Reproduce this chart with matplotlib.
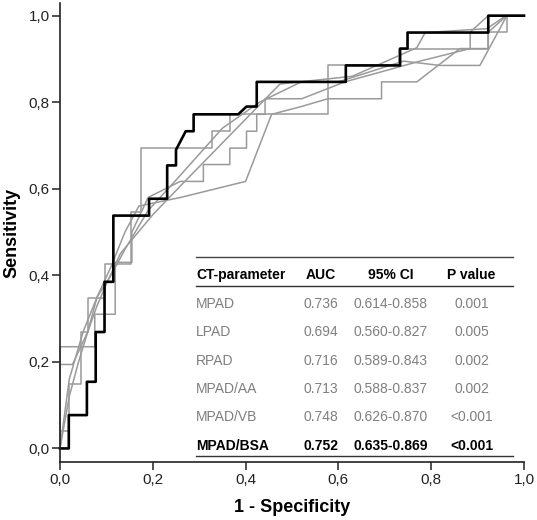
import numpy as np
import matplotlib.pyplot as plt

plt.rcParams['font.family'] = ['Liberation Sans', 'DejaVu Sans']

# ROC curves (1 - specificity, sensitivity)
mpad_x = [0, 0, 0.02, 0.02, 0.045, 0.045, 0.06, 0.06, 0.097, 0.097, 0.153, 0.153, 0.174, 0.174,
          0.327, 0.327, 0.366, 0.366, 0.577, 0.577, 0.614, 0.731, 0.731, 0.923, 0.923, 0.963, 0.963, 1.0]
mpad_y = [0, 0.04, 0.04, 0.15, 0.15, 0.27, 0.27, 0.347, 0.347, 0.427, 0.427, 0.546, 0.546, 0.694,
          0.694, 0.733, 0.733, 0.772, 0.772, 0.885, 0.885, 0.885, 0.924, 0.924, 0.962, 0.962, 1.0, 1.0]

lpad_x = [0, 0, 0.027, 0.06, 0.08, 0.11, 0.14, 0.17, 0.26, 0.40, 0.456, 0.52, 0.577, 0.693, 0.693,
          0.769, 0.862, 0.923, 0.923, 0.963, 1.0]
lpad_y = [0, 0.194, 0.194, 0.27, 0.35, 0.42, 0.50, 0.56, 0.58, 0.617, 0.772, 0.79, 0.808, 0.808, 0.847,
          0.847, 0.924, 0.924, 0.962, 1.0, 1.0]

rpad_x = [0, 0, 0.075, 0.075, 0.119, 0.119, 0.155, 0.155, 0.19, 0.259, 0.309, 0.309, 0.366, 0.366,
          0.402, 0.402, 0.424, 0.424, 0.442, 0.442, 0.521, 0.614, 0.776, 0.884, 0.884, 0.923, 1.0]
rpad_y = [0, 0.235, 0.235, 0.31, 0.31, 0.43, 0.43, 0.50, 0.58, 0.617, 0.617, 0.656, 0.656, 0.694,
          0.694, 0.733, 0.733, 0.772, 0.772, 0.808, 0.808, 0.847, 0.895, 0.924, 0.962, 1.0, 1.0]

aa_x = [0, 0.02, 0.04, 0.06, 0.08, 0.10, 0.13, 0.20, 0.259, 0.474, 0.63, 0.769, 0.787, 0.92, 0.961, 1.0]
aa_y = [0, 0.12, 0.20, 0.27, 0.33, 0.38, 0.45, 0.54, 0.606, 0.842, 0.86, 0.926, 0.961, 0.97, 1.0, 1.0]

vb_x = [0, 0.02, 0.05, 0.08, 0.11, 0.14, 0.19, 0.25, 0.30, 0.35, 0.43, 0.52, 0.60, 0.74, 0.819, 0.905, 0.963, 1.0]
vb_y = [0, 0.16, 0.27, 0.35, 0.40, 0.46, 0.55, 0.62, 0.68, 0.74, 0.80, 0.847, 0.847, 0.895, 0.885, 0.885, 1.0, 1.0]

bsa_x = [0, 0.019, 0.019, 0.058, 0.058, 0.077, 0.077, 0.096, 0.096, 0.115, 0.115, 0.192, 0.192, 0.231,
         0.231, 0.25, 0.25, 0.271, 0.288, 0.288, 0.384, 0.402, 0.424, 0.424, 0.616, 0.616, 0.733, 0.733,
         0.749, 0.749, 0.923, 0.923, 1.0]
bsa_y = [0, 0, 0.077, 0.077, 0.154, 0.154, 0.269, 0.269, 0.385, 0.385, 0.538, 0.538, 0.577, 0.577,
         0.654, 0.654, 0.69, 0.733, 0.733, 0.772, 0.772, 0.79, 0.79, 0.847, 0.847, 0.885, 0.885, 0.924,
         0.924, 0.961, 0.961, 1.0, 1.0]

# table
params = ['MPAD', 'LPAD', 'RPAD', 'MPAD/AA', 'MPAD/VB', 'MPAD/BSA']
auc = ['0.736', '0.694', '0.716', '0.713', '0.748', '0.752']
ci = ['0.614-0.858', '0.560-0.827', '0.589-0.843', '0.588-0.837', '0.626-0.870', '0.635-0.869']
pval = ['0.001', '0.005', '0.002', '0.002', '<0.001', '<0.001']
ticks = [0.0, 0.2, 0.4, 0.6, 0.8, 1.0]
tick_labels = ['0,0', '0,2', '0,4', '0,6', '0,8', '1,0']

fig = plt.figure(figsize=(5.37, 5.2), dpi=100)
ax = fig.add_axes([0.1117, 0.111, 0.8641, 0.883])

gray = '#9a9a9a'
for xs, ys in [(mpad_x, mpad_y), (lpad_x, lpad_y), (rpad_x, rpad_y), (aa_x, aa_y), (vb_x, vb_y)]:
    ax.plot(xs, ys, color=gray, lw=1.1, clip_on=False)
ax.plot(bsa_x, bsa_y, color='black', lw=1.9, clip_on=False)

ax.set_xlim(0, 1)
ax.set_ylim(-0.032, 1.029)
ax.set_xticks(ticks)
ax.set_xticklabels(tick_labels)
ax.set_yticks(ticks)
ax.set_yticklabels(tick_labels)
ax.tick_params(direction='out', length=5.5, width=1.1, labelsize=11, colors='#222222', pad=2)
for s in ['top', 'right']:
    ax.spines[s].set_visible(False)
for s in ['left', 'bottom']:
    ax.spines[s].set_linewidth(1.2)
    ax.spines[s].set_color('#222222')

ax.set_xlabel('1 - Specificity', fontsize=13, fontweight='bold', va='center')
ax.xaxis.set_label_coords(0.5, -0.0995)
ax.set_ylabel('Sensitivity', fontsize=13, fontweight='bold', va='center', ha='center')
ax.yaxis.set_label_coords(-0.103, 0.5)

# table inside the plot
x0, x1 = 0.293, 0.976
col_auc, col_ci, col_p = 0.562, 0.712, 0.887
ax.plot([x0, x1], [0.443, 0.443], color='#444444', lw=1.0)
ax.plot([x0, x1], [0.376, 0.376], color='#333333', lw=1.0)
ax.plot([x0, x1], [-0.018, -0.018], color='#333333', lw=1.0)
hy = 0.401
ax.text(x0, hy, 'CT-parameter', fontsize=10, fontweight='bold', va='center', ha='left')
ax.text(col_auc, hy, 'AUC', fontsize=10, fontweight='bold', va='center', ha='center')
ax.text(col_ci, hy, '95% CI', fontsize=10, fontweight='bold', va='center', ha='center')
ax.text(col_p, hy, 'P value', fontsize=10, fontweight='bold', va='center', ha='center')
row_y = [0.333, 0.268, 0.203, 0.138, 0.072, 0.005]
for i in range(len(params)):
    last = i == len(params) - 1
    c = 'black' if last else '#7f7f7f'
    w = 'bold' if last else 'normal'
    ax.text(x0, row_y[i], params[i], fontsize=10, color=c, fontweight=w, va='center', ha='left')
    ax.text(col_auc, row_y[i], auc[i], fontsize=10, color=c, fontweight=w, va='center', ha='center')
    ax.text(col_ci, row_y[i], ci[i], fontsize=10, color=c, fontweight=w, va='center', ha='center')
    ax.text(col_p, row_y[i], pval[i], fontsize=10, color=c, fontweight=w, va='center', ha='center')

fig.savefig('out.png', dpi=100)
